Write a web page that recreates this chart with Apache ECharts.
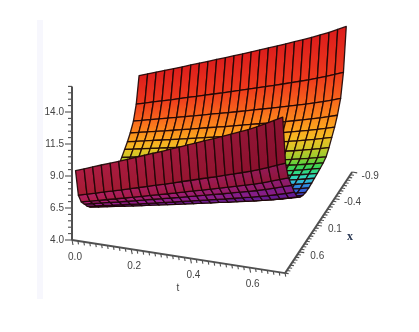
<!DOCTYPE html>
<html><head><meta charset="utf-8">
<script src="https://cdn.jsdelivr.net/npm/echarts@6/dist/echarts.min.js"></script>
<style>html,body{margin:0;background:#fff}#c{width:419px;height:332px;filter:blur(0.55px)}</style>
</head><body><div id="c"></div>
<script>
// data
const tValues=[0,0.029,0.058,0.087,0.117,0.146,0.175,0.204,0.233,0.262,0.292,0.321,0.35,0.379,0.408,0.437,0.467,0.496,0.525,0.554,0.583,0.612,0.642,0.671,0.7];
const xValues=[-0.9,-0.82,-0.74,-0.65,-0.57,-0.49,-0.41,-0.33,-0.25,-0.16,-0.08,0,0.08,0.16,0.25,0.33,0.41,0.49,0.57,0.65,0.74,0.82,0.9];
const profile=[8.95,7.05,6.05,5.5,5.15,4.88,4.6,4.38,4.3,4.26,4.23,4.2,4.17,4.15,4.16,4.22,4.25,4.45,4.85,5.35,5.9,6.75,9.0];
const growthBack=[1,1.027,1.054,1.081,1.108,1.135,1.163,1.19,1.218,1.246,1.274,1.302,1.33,1.359,1.388,1.417,1.446,1.476,1.506,1.536,1.567,1.6,1.635,1.672,1.71];
const growthFront=[1,1.028,1.056,1.084,1.112,1.14,1.169,1.198,1.227,1.256,1.285,1.315,1.345,1.375,1.405,1.435,1.465,1.496,1.527,1.558,1.59,1.625,1.665,1.705,1.745];
const frontFromRow=16;
const rowColors=['#dc1c1c','#ee3a1c','#f8661c','#fc8a1c','#fca81e','#f0c024','#c8c828','#90cc30','#50d040','#30d868','#30d8a0','#30d0d0','#30a0e0','#3070e0','#3a50d0','#5030b8','#5a1a98'];
const frontColorsLeft=['#5a1a98','#6a1c90','#8a2095','#a82085','#b01f68','#b01d45','#a51c32'];
const frontColorsRight=['#4a1898','#561a94','#741c90','#8c1c7c','#901a5a','#8e1434','#860f2c'];
const zTicks=[4.0,6.5,9.0,11.5,14.0];
const tTicks=[0.0,0.2,0.4,0.6];
const xTicks=[0.6,0.1,-0.4,-0.9];
const zRange=[4,16];const tRange=[0,0.72];const xRange=[1,-0.9];
const zMinorStep=0.5,tMinorStep=0.02,xMinorStep=0.05;

// oblique projection of the three data axes into the flat plot space
const origin=[72,240],perT=[296,46],perX=[-35.3,53.2],perZ=[0,-12.8];
function project(t,x,z){
  const dx=1-x,dz=z-4;
  return [origin[0]+perT[0]*t-perX[0]*dx,origin[1]+perT[1]*t-perX[1]*dx+perZ[1]*dz];
}
const cellData=[];
for(let r=0;r<xValues.length-1;r++)for(let c=0;c<tValues.length-1;c++)cellData.push([r,c]);
function surfaceZ(r,c){return profile[r]*(r>=frontFromRow?growthFront:growthBack)[c];}
function corner(api,r,c){return api.coord(project(tValues[c],xValues[r],surfaceZ(r,c)));}
function rowColor(r,c){
  if(r<frontFromRow)return rowColors[r];
  const i=r-frontFromRow;
  return echarts.color.lerp(c/(tValues.length-2),[frontColorsLeft[i],frontColorsRight[i]]);
}
function renderCell(p,api){
  const r=api.value(0),c=api.value(1);
  const pts=[corner(api,r,c),corner(api,r,c+1),corner(api,r+1,c+1),corner(api,r+1,c)];
  const fill=new echarts.graphic.LinearGradient(0,0,0,1,[{offset:0,color:rowColor(r,c)},{offset:1,color:rowColor(r+1,c)}]);
  return {type:'polygon',shape:{points:pts},style:{fill,stroke:'rgba(30,6,6,0.92)',lineWidth:1.3,lineJoin:'round'}};
}
const axisData=[];
function addAxis(a,b){axisData.push([...a,...b,2]);}
addAxis(project(0,1,zRange[0]),project(0,1,zRange[1]));
addAxis(project(tRange[0],1,4),project(tRange[1],1,4));
addAxis(project(tRange[1],xRange[0],4),project(tRange[1],xRange[1],4));
for(let i=0;i<=24;i++){const z=4+i*zMinorStep,m=zTicks.includes(z);const a=project(0,1,z);axisData.push([a[0]-(m?7:4),a[1],a[0],a[1],1]);}
for(let i=0;i<=36;i++){const t=i*tMinorStep,m=tTicks.some(v=>Math.abs(v-t)<1e-6);const a=project(t,1,4);axisData.push([a[0],a[1],a[0]+(m?1:0.6),a[1]+(m?5:3.5),1]);}
for(let i=0;i<=38;i++){const x=1-i*xMinorStep,m=xTicks.some(v=>Math.abs(v-x)<1e-6);const a=project(tRange[1],x,4);axisData.push([a[0],a[1],a[0]+(m?5:3.5),a[1]+(m?0.8:0.5),1]);}
function renderAxisLine(p,api){
  const a=api.coord([api.value(0),api.value(1)]),b=api.coord([api.value(2),api.value(3)]);
  return {type:'line',shape:{x1:a[0],y1:a[1],x2:b[0],y2:b[1]},style:{stroke:'#505050',lineWidth:api.value(4)==2?2:1.1}};
}
const labelData=[];
zTicks.forEach(v=>{const a=project(0,1,v);labelData.push([a[0]-8,a[1],v.toFixed(1),'right','#444']);});
tTicks.forEach(v=>{const a=project(v,1,4);labelData.push([a[0]+3,a[1]+17,v.toFixed(1),'center','#444']);});
xTicks.forEach(v=>{const a=project(tRange[1],v,4);labelData.push([a[0]+18,a[1]+4,v.toFixed(1),'center','#444']);});
const tTitleAt=[178,288],xTitleAt=[350,237];
labelData.push([tTitleAt[0],tTitleAt[1],'t','center','#444']);
labelData.push([xTitleAt[0],xTitleAt[1],'x','center','#2c3a55']);
function renderLabel(p,api){
  const a=api.coord([api.value(0),api.value(1)]);
  const row=labelData[p.dataIndex];
  return {type:'text',style:{x:a[0],y:a[1],text:row[2],fill:row[4],align:row[3],verticalAlign:'middle',font:row[2]==='x'?'bold 12px "Liberation Serif"':'10px "Liberation Sans"'}};
}
const chart=echarts.init(document.getElementById('c'),null,{renderer:'canvas'});
chart.setOption({
  animation:false,backgroundColor:'#fff',
  graphic:[{type:'rect',silent:true,z:-1,shape:{x:37,y:20,width:6,height:279},style:{fill:'#f7f7fd'}}],
  grid:{left:0,right:0,top:0,bottom:0},
  xAxis:{type:'value',min:0,max:419,show:false},
  yAxis:{type:'value',min:0,max:332,inverse:true,show:false},
  series:[
    {type:'custom',coordinateSystem:'cartesian2d',data:axisData,renderItem:renderAxisLine,silent:true,clip:false,encode:{x:0,y:1}},
    {type:'custom',coordinateSystem:'cartesian2d',data:cellData,renderItem:renderCell,silent:true,clip:false,encode:{x:[],y:[]}},
    {type:'custom',coordinateSystem:'cartesian2d',data:labelData.map(r=>r.slice(0,2)),renderItem:renderLabel,silent:true,clip:false,encode:{x:0,y:1}}
  ]
});
</script></body></html>
